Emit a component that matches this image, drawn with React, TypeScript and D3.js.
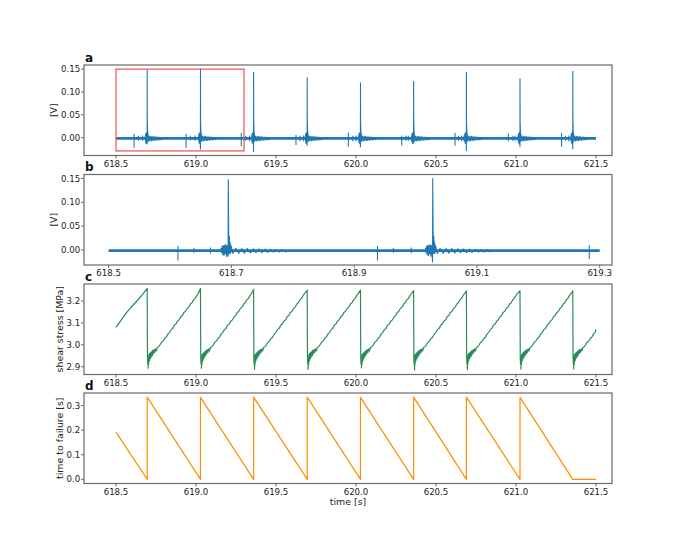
import React from 'react';
import * as d3 from 'd3';

const W = 681;
const H = 553;

// ---------- Acoustic emission signal (panels a, b) ----------
const aeStart = 618.5;
const aeEnd = 621.5;
const aeNoiseLow = -0.0045;
const aeNoiseHigh = 0.0015;

const failureTimes = [618.695, 619.028, 619.36, 619.695, 620.028, 620.36, 620.69, 621.025, 621.355];
const peakHigh = [0.148, 0.15, 0.143, 0.131, 0.12, 0.123, 0.143, 0.129, 0.145];
const peakLow = [-0.014, -0.025, -0.03, -0.017, -0.02, -0.01, -0.028, -0.02, -0.024];

const precursorTimes = [
  618.613, 618.639, 618.666,
  618.938, 618.964, 618.993,
  619.283, 619.31, 619.335,
  619.625, 619.65, 619.672,
  619.952, 619.98, 620.0,
  620.286, 620.312, 620.327, 620.348,
  620.619, 620.64, 620.66, 620.675,
  620.952, 620.98, 620.994, 621.014,
  621.285, 621.31, 621.33,
];
const precursorHigh = [
  0.008, 0.004, 0.005,
  0.008, 0.004, 0.005,
  0.01, 0.004, 0.005,
  0.006, 0.004, 0.005,
  0.011, 0.004, 0.005,
  0.005, 0.004, 0.004, 0.005,
  0.01, 0.004, 0.004, 0.005,
  0.009, 0.004, 0.004, 0.005,
  0.01, 0.004, 0.005,
];
const precursorLow = [
  -0.022, -0.006, -0.007,
  -0.022, -0.006, -0.007,
  -0.019, -0.007, -0.008,
  -0.016, -0.008, -0.008,
  -0.02, -0.008, -0.008,
  -0.017, -0.007, -0.007, -0.008,
  -0.017, -0.007, -0.008, -0.008,
  -0.008, -0.007, -0.007, -0.008,
  -0.02, -0.007, -0.008,
];

// burst just before each rupture (offset from failure time, volts)
const burstDt = [-0.012, -0.011, -0.01, -0.009, -0.008, -0.007, -0.006, -0.005, -0.004, -0.003, -0.002, -0.001];
const burstV = [0.004, -0.006, 0.008, -0.01, 0.009, -0.012, 0.01, -0.008, 0.011, -0.013, 0.009, -0.01];
// decaying tail and ringing after each rupture
const ringDt = [0.0006, 0.0012, 0.0018, 0.0024, 0.003, 0.0038, 0.0046, 0.0075, 0.012, 0.017, 0.022, 0.026, 0.031, 0.036, 0.041, 0.045, 0.05, 0.055, 0.06, 0.064, 0.069, 0.074, 0.079, 0.083, 0.088, 0.093, 0.098];
const ringV = [0.045, -0.008, 0.028, -0.007, 0.016, -0.007, 0.009, -0.0075, 0.0035, -0.007, 0.003, -0.0068, 0.0028, -0.0064, 0.0024, -0.006, 0.002, -0.0056, 0.0016, -0.0052, 0.0012, -0.0048, 0.0008, -0.0045, 0.0005, -0.0042, -0.0015];

// ---------- Shear stress (panel c) ----------
const stressStartTimes = [618.5, 618.53, 618.567, 618.6, 618.64, 618.67];
const stressStartValues = [3.08, 3.11, 3.148, 3.176, 3.208, 3.234];
const stressPeak = [3.258, 3.258, 3.253, 3.25, 3.25, 3.247, 3.247, 3.247, 3.247];
const stressTrough = [2.893, 2.893, 2.888, 2.888, 2.895, 2.885, 2.887, 2.889, 2.889];
const slipDt = [0.0015, 0.003, 0.0045, 0.006, 0.0075, 0.009, 0.0105, 0.012, 0.014, 0.016, 0.018, 0.02, 0.023, 0.026, 0.029, 0.032, 0.035, 0.039, 0.043, 0.047, 0.052, 0.057, 0.063, 0.07, 0.08, 0.09, 0.1, 0.11, 0.12, 0.13, 0.14, 0.15, 0.16, 0.17, 0.18, 0.19, 0.2, 0.21, 0.22, 0.23, 0.24, 0.25, 0.26, 0.27, 0.28, 0.29, 0.3, 0.31, 0.32];
const slipStress = [2.945, 2.915, 2.95, 0, 2.94, 2.91, 2.955, 2.925, 2.96, 2.93, 2.962, 2.938, 2.965, 2.945, 2.97, 2.95, 2.975, 2.958, 2.978, 2.965, 2.982, 2.972, 2.988, 2.99, 3.0, 3.012, 3.018, 3.03, 3.036, 3.05, 3.057, 3.07, 3.075, 3.09, 3.095, 3.108, 3.114, 3.128, 3.134, 3.148, 3.153, 3.167, 3.172, 3.186, 3.192, 3.206, 3.212, 3.226, 3.235];
const slipTroughIndex = 3;
const stressEndTime = 621.5;
const stressEndValue = 3.07;

// ---------- Time to failure (panel d) ----------
const ttfTimes = [618.5, 618.695, 618.695, 619.028, 619.028, 619.36, 619.36, 619.695, 619.695, 620.028, 620.028, 620.36, 620.36, 620.69, 620.69, 621.025, 621.025, 621.355, 621.5];
const ttfValues = [0.192, 0, 0.334, 0, 0.333, 0, 0.334, 0, 0.334, 0, 0.333, 0, 0.334, 0, 0.334, 0, 0.333, 0, 0];

// ---------- ticks ----------
const xTicksMain = [618.5, 619.0, 619.5, 620.0, 620.5, 621.0, 621.5];
const xTicksZoom = [618.5, 618.7, 618.9, 619.1, 619.3];
const yTicksAE = [0, 0.05, 0.1, 0.15];
const yTicksStress = [2.9, 3.0, 3.1, 3.2];
const yTicksTTF = [0, 0.1, 0.2, 0.3];

// zoom window shown in b
const zoomT0 = 618.5;
const zoomT1 = 619.3;
const zoomV0 = -0.029;
const zoomV1 = 0.15;

const LEFT = 84;
const RIGHT = 612;
const TOPS = [65, 174.5, 284, 393];
const PH = 90.5;
const FONT = 'DejaVu Sans, sans-serif';
const SPINE = '#6a6a6a';

type Sc = d3.ScaleLinear<number, number>;

function Axes(props: {
  id: string;
  top: number;
  x: Sc;
  y: Sc;
  xTicks: number[];
  xFmt: (v: number) => string;
  yTicks: number[];
  yFmt: (v: number) => string;
  ylabel: string;
  ylabelX: number;
  letter: string;
  children?: React.ReactNode;
}) {
  const { id, top, x, y, xTicks, xFmt, yTicks, yFmt, ylabel, ylabelX, letter, children } = props;
  const bottom = top + PH;
  return (
    <g>
      <defs>
        <clipPath id={id}>
          <rect x={LEFT} y={top} width={RIGHT - LEFT} height={PH} />
        </clipPath>
      </defs>
      <g clipPath={`url(#${id})`}>{children}</g>
      <rect x={LEFT} y={top} width={RIGHT - LEFT} height={PH} fill="none" stroke={SPINE} strokeWidth={1.2} />
      {xTicks.map((t) => (
        <g key={'x' + t}>
          <line x1={x(t)} x2={x(t)} y1={bottom} y2={bottom + 3} stroke={SPINE} strokeWidth={1} />
          <text x={x(t)} y={bottom + 11} textAnchor="middle" fontFamily={FONT} fontSize={8.6} fill="#222">
            {xFmt(t)}
          </text>
        </g>
      ))}
      {yTicks.map((t) => (
        <g key={'y' + t}>
          <line x1={LEFT - 3} x2={LEFT} y1={y(t)} y2={y(t)} stroke={SPINE} strokeWidth={1} />
          <text x={LEFT - 3.8} y={y(t)} dy="0.35em" textAnchor="end" fontFamily={FONT} fontSize={8.6} fill="#222">
            {yFmt(t)}
          </text>
        </g>
      ))}
      <text
        transform={`translate(${ylabelX},${top + PH / 2}) rotate(-90)`}
        textAnchor="middle"
        dy="0.35em"
        fontFamily={FONT}
        fontSize={9.4}
        fill="#222"
      >
        {ylabel}
      </text>
      <text x={LEFT + 1} y={top - 3.5} fontFamily={FONT} fontSize={12} fontWeight="bold" fill="#111">
        {letter}
      </text>
    </g>
  );
}

function AESignal({ x, y, t0, t1 }: { x: Sc; y: Sc; t0: number; t1: number }) {
  const line = d3
    .line<[number, number]>()
    .x((d) => x(d[0]))
    .y((d) => y(d[1]));
  const band = d3
    .area<number>()
    .x((t) => x(t))
    .y0(y(aeNoiseLow))
    .y1(y(aeNoiseHigh));
  const blue = '#1f77b4';
  const inside = (t: number) => t >= t0 && t <= t1;
  return (
    <g>
      <path d={band([t0, t1]) || ''} fill={blue} />
      {precursorTimes.map((t, i) =>
        inside(t) ? (
          <line key={'p' + i} x1={x(t)} x2={x(t)} y1={y(precursorLow[i])} y2={y(precursorHigh[i])} stroke={blue} strokeWidth={1.1} />
        ) : null
      )}
      {failureTimes.map((tf, i) => {
        const pts: [number, number][] = [];
        burstDt.forEach((dt, j) => {
          if (inside(tf + dt)) pts.push([tf + dt, burstV[j]]);
        });
        if (inside(tf)) {
          pts.push([tf - 0.0003, peakLow[i]]);
          pts.push([tf, peakHigh[i]]);
        }
        ringDt.forEach((dt, j) => {
          if (inside(tf + dt)) pts.push([tf + dt, ringV[j]]);
        });
        if (pts.length < 2) return null;
        return <path key={'f' + i} d={line(pts) || ''} fill="none" stroke={blue} strokeWidth={1.1} strokeLinejoin="round" />;
      })}
    </g>
  );
}

export default function App() {
  const xMain = d3.scaleLinear().domain([618.3, 621.6]).range([LEFT, RIGHT]);
  const xZoom = d3.scaleLinear().domain([618.46, 619.32]).range([LEFT, RIGHT]);
  const yA = d3.scaleLinear().domain([-0.039, 0.159]).range([TOPS[0] + PH, TOPS[0]]);
  const yB = d3.scaleLinear().domain([-0.0317, 0.1585]).range([TOPS[1] + PH, TOPS[1]]);
  const yC = d3.scaleLinear().domain([2.8644, 3.2776]).range([TOPS[2] + PH, TOPS[2]]);
  const yD = d3.scaleLinear().domain([-0.0167, 0.351]).range([TOPS[3] + PH, TOPS[3]]);

  const f1 = d3.format('.1f');
  const f2 = d3.format('.2f');

  // stress path
  const stressPts: [number, number][] = stressStartTimes.map((t, i) => [t, stressStartValues[i]]);
  failureTimes.forEach((tf, i) => {
    stressPts.push([tf, stressPeak[i]]);
    const next = i + 1 < failureTimes.length ? failureTimes[i + 1] : stressEndTime;
    slipDt.forEach((dt, j) => {
      const t = tf + dt;
      if (t < next - 0.004) {
        stressPts.push([t, j === slipTroughIndex ? stressTrough[i] : slipStress[j]]);
      }
    });
  });
  stressPts.push([stressEndTime, stressEndValue]);
  const stressLine = d3
    .line<[number, number]>()
    .x((d) => xMain(d[0]))
    .y((d) => yC(d[1]));

  const ttfLine = d3
    .line<number>()
    .x((_, i) => xMain(ttfTimes[i]))
    .y((v) => yD(v));

  return (
    <svg width={W} height={H} style={{ position: 'absolute', left: 0, top: 0, background: '#fff' }}>
      <rect x={0} y={0} width={W} height={H} fill="#fff" />
      <Axes id="ca" top={TOPS[0]} x={xMain} y={yA} xTicks={xTicksMain} xFmt={f1} yTicks={yTicksAE} yFmt={f2} ylabel="[V]" ylabelX={54} letter="a">
        <AESignal x={xMain} y={yA} t0={aeStart} t1={aeEnd} />
      </Axes>
      <rect
        x={xMain(zoomT0)}
        y={yA(zoomV1)}
        width={xMain(zoomT1) - xMain(zoomT0)}
        height={yA(zoomV0) - yA(zoomV1)}
        fill="none"
        stroke="#ee5050"
        strokeWidth={1.2}
      />
      <Axes id="cb" top={TOPS[1]} x={xZoom} y={yB} xTicks={xTicksZoom} xFmt={f1} yTicks={yTicksAE} yFmt={f2} ylabel="[V]" ylabelX={54} letter="b">
        <AESignal x={xZoom} y={yB} t0={zoomT0} t1={zoomT1} />
      </Axes>
      <Axes id="cc" top={TOPS[2]} x={xMain} y={yC} xTicks={xTicksMain} xFmt={f1} yTicks={yTicksStress} yFmt={f1} ylabel="shear stress [MPa]" ylabelX={60} letter="c">
        <path d={stressLine(stressPts) || ''} fill="none" stroke="#2e8b57" strokeWidth={1.2} strokeLinejoin="round" />
      </Axes>
      <Axes id="cd" top={TOPS[3]} x={xMain} y={yD} xTicks={xTicksMain} xFmt={f1} yTicks={yTicksTTF} yFmt={f1} ylabel="time to failure [s]" ylabelX={60} letter="d">
        <path d={ttfLine(ttfValues) || ''} fill="none" stroke="#ff8c00" strokeWidth={1.2} strokeLinejoin="round" />
      </Axes>
      <text x={(LEFT + RIGHT) / 2} y={505} textAnchor="middle" fontFamily={FONT} fontSize={9.4} fill="#222">
        time [s]
      </text>
    </svg>
  );
}
